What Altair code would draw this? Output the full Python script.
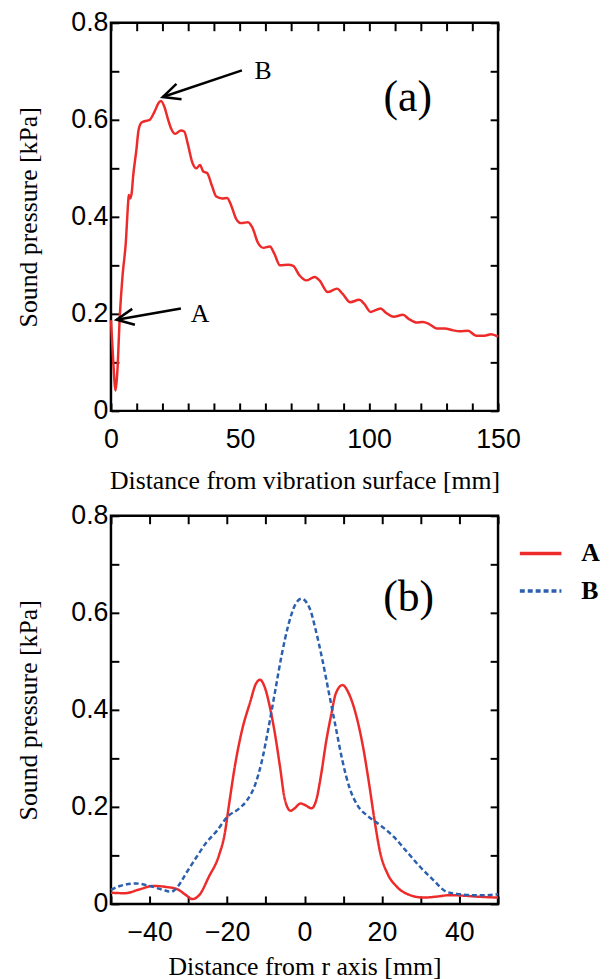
import altair as alt
import pandas as pd

RED = "#ee2b2b"
BLUE = "#2c5fae"
SERIF = "Liberation Serif"
SANS = "Liberation Sans"

# ---------------- data: panel (a) ----------------
top_dist = [0, 0.8, 1.8, 2.4, 3.45, 4.5, 5.75, 6.65, 6.9, 7.4, 8.0, 8.6, 9.85, 10.7, 11.8,
            13.0, 15.0, 16.9, 18.5, 19.4, 20.7, 22.0, 23.3, 24.9, 27.1, 28.4, 29.7, 31.6, 33.1, 34.5,
            35.7, 37.3, 39.2, 40.8, 43.1, 45.0, 46.7, 48.5, 50.5, 53.1, 54.8, 56.9, 59.1, 61.6, 63.3,
            65.5, 68.7, 70.6, 73.1, 75.7, 78.9, 80.8, 84.0, 87.6, 89.8, 92.7, 96.2, 98.1, 100.6, 104.5,
            106.4, 109.6, 113.2, 115.3, 118.5, 120.8, 123.0, 126.2, 129.4, 132.6, 135.1, 138.4, 141.5,
            144.7, 147.3, 150.0]
top_pres = [0.187, 0.11, 0.042, 0.074, 0.197, 0.279, 0.347, 0.429, 0.445, 0.438, 0.448, 0.484, 0.538,
            0.579, 0.594, 0.597, 0.600, 0.617, 0.635, 0.639, 0.627, 0.603, 0.582, 0.571, 0.578, 0.576,
            0.552, 0.511, 0.500, 0.507, 0.494, 0.490, 0.463, 0.442, 0.438, 0.439, 0.422, 0.396, 0.387,
            0.389, 0.378, 0.347, 0.336, 0.339, 0.324, 0.300, 0.301, 0.299, 0.279, 0.269, 0.276, 0.269,
            0.245, 0.252, 0.241, 0.224, 0.229, 0.221, 0.204, 0.211, 0.203, 0.194, 0.198, 0.190, 0.182,
            0.183, 0.180, 0.170, 0.170, 0.166, 0.164, 0.165, 0.155, 0.155, 0.158, 0.153]

# arrows annotating points A and B on panel (a)
arrow_labels = ["A", "B"]
arrow_tail_x = [27.1, 50.75]
arrow_tail_y = [0.211, 0.702]
arrow_tip_x = [2.2, 20.06]
arrow_tip_y = [0.188, 0.647]
arrow_angle = [170.4, 161.5]
arrow_text_x = [30.9, 55.6]
arrow_text_y = [0.200, 0.700]

# ---------------- data: panel (b) ----------------
a_r = [-50, -46.4, -42.6, -39.2, -35.8, -32.8, -30.6, -29.0, -27.2, -24.7, -22.1, -20.6, -19.6,
       -17.9, -16.2, -14.0, -12.6, -11.5, -10.2, -8.9, -7.6, -6.3, -5.1, -3.6, -2.7, -1.0, 0.3, 1.8,
       3.0, 4.3, 5.6, 6.9, 8.1, 9.8, 11.6, 13.3, 15.0, 16.7, 18.1, 19.6, 21.4, 23.9, 27.3, 30.7,
       34.1, 37.5, 41.0, 44.4, 46.9, 50.0]
a_p = [0.023, 0.022, 0.030, 0.037, 0.035, 0.030, 0.018, 0.010, 0.018, 0.056, 0.100, 0.145, 0.199,
       0.288, 0.356, 0.417, 0.453, 0.462, 0.445, 0.404, 0.349, 0.281, 0.216, 0.192, 0.196, 0.207,
       0.203, 0.197, 0.213, 0.267, 0.335, 0.390, 0.434, 0.451, 0.431, 0.390, 0.329, 0.247, 0.172,
       0.104, 0.063, 0.035, 0.018, 0.013, 0.015, 0.018, 0.017, 0.015, 0.014, 0.013]
b_r = [-50, -47.7, -43.4, -40.0, -36.6, -34.5, -32.8, -30.6, -28.1, -25.5, -22.6, -20.0, -17.0,
       -14.9, -12.7, -11.0, -9.3, -7.6, -5.9, -4.2, -2.5, -0.8, 1.3, 3.0, 4.7, 6.4, 8.1, 9.8, 11.6,
       13.7, 16.2, 19.6, 23.1, 26.5, 29.9, 33.3, 36.7, 40.1, 43.5, 46.9, 50.0]
b_p = [0.029, 0.037, 0.042, 0.037, 0.029, 0.025, 0.035, 0.063, 0.094, 0.125, 0.151, 0.179, 0.196,
       0.213, 0.247, 0.295, 0.363, 0.438, 0.513, 0.574, 0.615, 0.629, 0.610, 0.561, 0.500, 0.431,
       0.363, 0.295, 0.240, 0.203, 0.182, 0.162, 0.138, 0.107, 0.076, 0.049, 0.025, 0.020, 0.018,
       0.018, 0.020]
series_names = ["A", "B"]

# panel tags
tag_text = ["(a)", "(b)"]
tag_x = [115.0, 26.9]
tag_y = [0.644, 0.63]

# ticks
y_ticks = [0, 0.1, 0.2, 0.3, 0.4, 0.5, 0.6, 0.7, 0.8]
top_x_ticks = [0, 10, 20, 30, 40, 50, 60, 70, 80, 90, 100, 110, 120, 130, 140, 150]
bot_x_ticks = [-50, -40, -30, -20, -10, 0, 10, 20, 30, 40, 50]

W, H = 391, 392
TICK = 8
Y_EXPR = "round(datum.value*10) % 2 == 0 ? format(datum.value, '.1~f') : ''"


def label_axis(orient, values, expr, title, label_pad, title_pad):
    return alt.Axis(orient=orient, values=values, labelExpr=expr, title=title,
                    domain=False, grid=False, ticks=True, tickSize=TICK, offset=-TICK,
                    tickWidth=2, tickColor="black", labelFont=SANS, labelFontSize=27,
                    labelColor="black", labelPadding=label_pad, labelOverlap=False,
                    labelFlush=False, labelBound=False, titleFont=SERIF, titleFontSize=26,
                    titleFontWeight="normal", titleColor="black", titlePadding=title_pad,
                    minExtent=0)


def mirror_axis(orient, values):
    return alt.Axis(orient=orient, values=values, labels=False, title=None, domain=False,
                    grid=False, tickSize=TICK, offset=-TICK, tickWidth=2, tickColor="black",
                    minExtent=0, maxExtent=0)


ys = alt.Scale(domain=[0, 0.8], nice=False, zero=False)
xs_top = alt.Scale(domain=[0, 150], nice=False, zero=False)
xs_bot = alt.Scale(domain=[-50, 50], nice=False, zero=False)

ARROW = "M -1 -0.47 L 0 0 L -1 0.47"

# ---------------- panel (a) ----------------
top_df = pd.DataFrame({"d": top_dist, "p": top_pres})
ann_df = pd.DataFrame({"label": arrow_labels, "tx": arrow_tail_x, "ty": arrow_tail_y,
                       "hx": arrow_tip_x, "hy": arrow_tip_y, "ang": arrow_angle,
                       "lx": arrow_text_x, "ly": arrow_text_y})
tag_a_df = pd.DataFrame({"x": [tag_x[0]], "y": [tag_y[0]], "t": [tag_text[0]]})

line_a = alt.Chart(top_df).mark_line(color=RED, strokeWidth=2.5, interpolate="monotone").encode(
    x=alt.X("d:Q", scale=xs_top,
            axis=label_axis("bottom", top_x_ticks, "datum.value % 50 == 0 ? datum.label : ''",
                            "Distance from vibration surface [mm]", 16, 15)),
    y=alt.Y("p:Q", scale=ys, axis=label_axis("left", y_ticks, Y_EXPR, "Sound pressure [kPa]", 3, 30)),
)
shafts = alt.Chart(ann_df).mark_rule(color="black", strokeWidth=2.5).encode(
    x=alt.X("tx:Q", scale=xs_top, axis=mirror_axis("top", top_x_ticks)),
    y=alt.Y("ty:Q", scale=ys, axis=mirror_axis("right", y_ticks)),
    x2="hx:Q", y2="hy:Q",
)
heads = alt.Chart(ann_df).mark_point(shape=ARROW, filled=False, color="black", strokeWidth=2.5,
                                     size=1200, opacity=1).encode(
    x=alt.X("hx:Q", scale=xs_top, axis=None),
    y=alt.Y("hy:Q", scale=ys, axis=None),
    angle=alt.Angle("ang:Q", scale=None),
)
ann_text = alt.Chart(ann_df).mark_text(font=SERIF, fontSize=26, align="left", baseline="middle",
                                       color="black").encode(
    x=alt.X("lx:Q", scale=xs_top, axis=None),
    y=alt.Y("ly:Q", scale=ys, axis=None),
    text="label:N",
)
tag_a = alt.Chart(tag_a_df).mark_text(font=SERIF, fontSize=44, align="center", baseline="middle",
                                      color="black").encode(
    x=alt.X("x:Q", scale=xs_top, axis=None),
    y=alt.Y("y:Q", scale=ys, axis=None),
    text="t:N",
)
panel_a = alt.layer(line_a, shafts, heads, ann_text, tag_a).resolve_axis(
    x="independent", y="independent").properties(width=W, height=H)

# ---------------- panel (b) ----------------
bot_df = pd.concat([
    pd.DataFrame({"r": a_r, "p": a_p, "s": series_names[0]}),
    pd.DataFrame({"r": b_r, "p": b_p, "s": series_names[1]}),
], ignore_index=True)
tag_b_df = pd.DataFrame({"x": [tag_x[1]], "y": [tag_y[1]], "t": [tag_text[1]]})

leg = alt.Legend(title=None, orient="none", legendX=411, legendY=15, symbolType="stroke",
                 symbolSize=1764, symbolStrokeWidth=3.5, labelFont=SERIF, labelFontSize=26,
                 labelFontWeight="bold", labelColor="black", labelOffset=18, rowPadding=2,
                 padding=0)

lines_b = alt.Chart(bot_df).mark_line(strokeWidth=2.5, interpolate="monotone").encode(
    x=alt.X("r:Q", scale=xs_bot,
            axis=label_axis("bottom", bot_x_ticks, "datum.value % 20 == 0 ? datum.label : ''",
                            "Distance from r axis [mm]", 16, 8)),
    y=alt.Y("p:Q", scale=ys, axis=label_axis("left", y_ticks, Y_EXPR, "Sound pressure [kPa]", 3, 30)),
    color=alt.Color("s:N", scale=alt.Scale(domain=series_names, range=[RED, BLUE]), legend=leg),
    strokeDash=alt.StrokeDash("s:N", scale=alt.Scale(domain=series_names, range=[[1, 0], [5, 3]]),
                              legend=leg),
)
tag_b = alt.Chart(tag_b_df).mark_text(font=SERIF, fontSize=44, align="center", baseline="middle",
                                      color="black").encode(
    x=alt.X("x:Q", scale=xs_bot, axis=mirror_axis("top", bot_x_ticks)),
    y=alt.Y("y:Q", scale=ys, axis=mirror_axis("right", y_ticks)),
    text="t:N",
)
panel_b = alt.layer(lines_b, tag_b).resolve_axis(
    x="independent", y="independent").properties(width=W, height=H)

chart = alt.vconcat(panel_a, panel_b, spacing=5).resolve_scale(
    color="independent", strokeDash="independent"
).properties(
    padding={"left": 6, "top": -6, "right": 0, "bottom": 0}
).configure_view(stroke="black", strokeWidth=2.5)

chart.save("out.html", embed_options={"renderer": "svg", "actions": False})
